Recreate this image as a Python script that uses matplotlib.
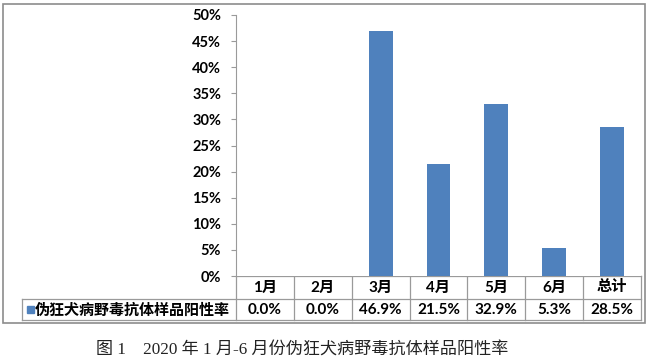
import matplotlib
matplotlib.use("Agg")
import matplotlib.pyplot as plt
from matplotlib.ticker import PercentFormatter

# data
categories = ['1月', '2月', '3月', '4月', '5月', '6月', '总计']
rates = [0.0, 0.0, 46.9, 21.5, 32.9, 5.3, 28.5]
series_name = '伪狂犬病野毒抗体样品阳性率'
caption = '图 1　2020 年 1 月-6 月份伪狂犬病野毒抗体样品阳性率'

W, H = 650, 361
bold_font = ['Lato', 'Noto Sans CJK SC']
cjk_bold = ['Noto Sans CJK SC', 'Lato']
serif_font = ['Liberation Serif', 'Noto Sans CJK SC']
grid_col = '#9a9a9a'
bar_col = '#4F81BD'

# pixel layout
ax_left, ax_right, ax_top, ax_bot = 236, 641, 15, 276
row1, row2 = 299, 320
leg_left = 22

fig = plt.figure(figsize=(W / 100, H / 100), dpi=100)

# overlay axes in pixel units for frame, table, caption
ov = fig.add_axes([0, 0, 1, 1])
ov.set_xlim(0, W)
ov.set_ylim(H, 0)
ov.axis('off')

ax = fig.add_axes([ax_left / W, (H - ax_bot) / H,
                   (ax_right - ax_left) / W, (ax_bot - ax_top) / H])
x = range(len(categories))
ax.bar(x, rates, width=0.41, color=bar_col, zorder=3)
ax.set_xlim(-0.5, len(categories) - 0.5)
ax.set_ylim(0, 50)
ax.set_yticks(range(0, 51, 5))
ax.yaxis.set_major_formatter(PercentFormatter(decimals=0))
ax.set_xticks([])
for s in ['top', 'right', 'bottom']:
    ax.spines[s].set_visible(False)
ax.spines['left'].set_color(grid_col)
ax.tick_params(axis='y', length=3.6, color=grid_col, pad=7)
for lab in ax.get_yticklabels():
    lab.set_fontfamily(bold_font)
    lab.set_fontweight('bold')
    lab.set_fontsize(10.5)

# outer chart frame
ov.add_patch(plt.Rectangle((3, 4), 642, 319, fill=False, ec='#8c8c8c', lw=1.2))

# data table
colw = (ax_right - ax_left) / len(categories)
lw = 0.9
ov.plot([ax_left, ax_right], [ax_bot, ax_bot], color=grid_col, lw=lw)
ov.plot([leg_left, ax_right], [row1, row1], color=grid_col, lw=lw)
ov.plot([leg_left, ax_right], [row2, row2], color=grid_col, lw=lw)
ov.plot([leg_left, leg_left], [row1, row2], color=grid_col, lw=lw)
for i in range(len(categories) + 1):
    xx = ax_left + i * colw
    ov.plot([xx, xx], [ax_bot, row2], color=grid_col, lw=lw)
for i, (c, v) in enumerate(zip(categories, rates)):
    cx = ax_left + (i + 0.5) * colw
    ov.text(cx, (ax_bot + row1) / 2, c, ha='center', va='center',
            fontsize=11, fontweight='bold', family=bold_font)
    ov.text(cx, (row1 + row2) / 2, f'{v:.1f}%', ha='center', va='center',
            fontsize=11, fontweight='bold', family=bold_font)

ov.add_patch(plt.Rectangle((27, (row1 + row2) / 2 - 3.5), 7, 7, color=bar_col))
ov.text(35, (row1 + row2) / 2, series_name, ha='left', va='center',
        fontsize=10.8, fontweight='bold', family=cjk_bold)

ov.text(302, 351, caption, ha='center', va='center', fontsize=12.3,
        family=serif_font, color='#222222')

fig.savefig('out.png', dpi=100)
